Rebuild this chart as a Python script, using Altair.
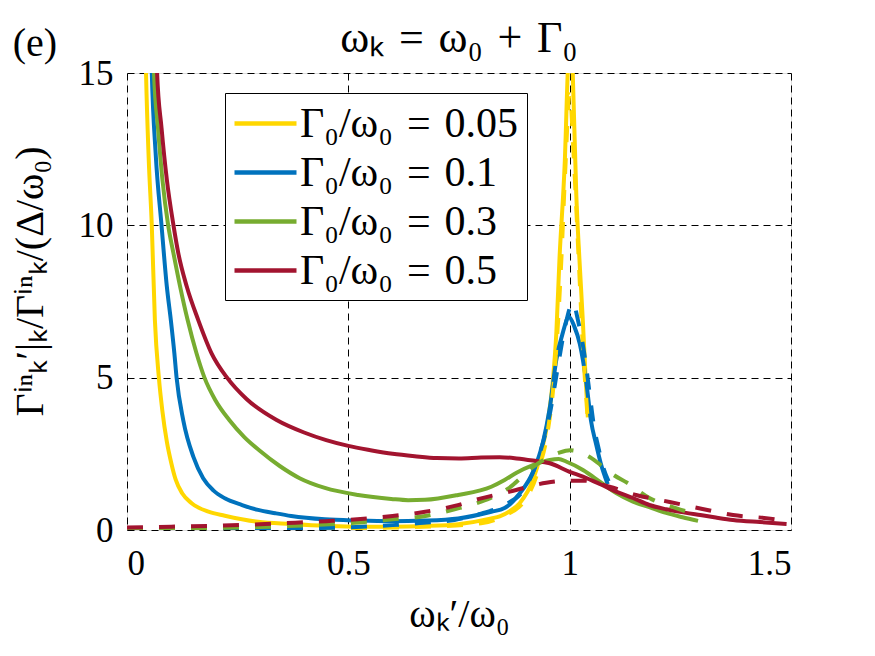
import altair as alt
import pandas as pd

series_labels = ["Γ₀/ω₀\u2004=\u20040.05", "Γ₀/ω₀\u2004=\u20040.1",
                 "Γ₀/ω₀\u2004=\u20040.3", "Γ₀/ω₀\u2004=\u20040.5"]
series_colors = ["#FFD700", "#0072BD", "#77AC30", "#A2142F"]

x_tick_values = [0, 0.5, 1, 1.5]
y_tick_values = [0, 5, 10, 15]

# ---- solid curves ----
yellow_solid_x = [0.038, 0.043, 0.049, 0.056, 0.063, 0.072, 0.08, 0.09, 0.1, 0.11, 0.125, 0.146, 0.184,
                  0.221, 0.296, 0.371, 0.45, 0.522, 0.6, 0.673, 0.748, 0.823, 0.842, 0.865, 0.887, 0.917,
                  0.935, 0.951, 0.962, 0.97, 0.977, 0.989, 0.997, 1.003, 1.008, 1.015, 1.022, 1.03, 1.036, 1.041]
yellow_solid_y = [19.0, 15.0, 12.2, 10.0, 6.89, 5.0, 3.9, 2.9, 2.2, 1.65, 1.2, 0.88, 0.6,
                  0.47, 0.27, 0.2, 0.14, 0.11, 0.11, 0.13, 0.19, 0.38, 0.45, 0.62, 0.88, 1.64,
                  2.5, 3.6, 4.9, 6.5, 8.9, 12.1, 15.5, 16.5, 14.5, 11.0, 8.9, 6.8, 5.0, 3.7]

blue_solid_x = [0.05, 0.056, 0.065, 0.078, 0.09, 0.099, 0.107, 0.112, 0.127, 0.15, 0.172, 0.195, 0.221,
                0.26, 0.296, 0.335, 0.371, 0.447, 0.522, 0.597, 0.673, 0.748, 0.823, 0.853, 0.887, 0.917,
                0.94, 0.955, 0.97, 0.985, 0.998, 1.01, 1.023, 1.038, 1.048, 1.06, 1.07, 1.086]
blue_solid_y = [19.0, 15.0, 12.3, 10.0, 7.99, 6.89, 5.8, 5.0, 3.61, 2.4, 1.7, 1.3, 1.04,
                0.82, 0.66, 0.55, 0.46, 0.35, 0.31, 0.29, 0.31, 0.38, 0.6, 0.72, 1.2, 1.9,
                2.9, 4.0, 5.6, 6.5, 7.0, 6.7, 6.1, 4.8, 3.6, 2.8, 2.2, 1.5]

green_solid_x = [0.055, 0.061, 0.07, 0.08, 0.093, 0.105, 0.12, 0.137, 0.157, 0.175, 0.2, 0.231, 0.265,
                 0.3, 0.345, 0.39, 0.447, 0.522, 0.597, 0.635, 0.673, 0.748, 0.823, 0.853, 0.88, 0.917,
                 0.955, 0.975, 0.993, 1.03, 1.068, 1.105, 1.143, 1.18, 1.218, 1.255, 1.29]
green_solid_y = [19.0, 15.0, 13.2, 11.5, 10.0, 9.08, 7.99, 6.89, 5.8, 5.0, 4.25, 3.61, 3.05,
                 2.6, 2.1, 1.7, 1.38, 1.15, 1.02, 0.98, 0.99, 1.15, 1.42, 1.64, 1.88, 2.13,
                 2.3, 2.33, 2.24, 1.97, 1.59, 1.21, 0.93, 0.75, 0.56, 0.42, 0.3]

red_solid_x = [0.062, 0.068, 0.078, 0.09, 0.105, 0.116, 0.135, 0.161, 0.191, 0.226, 0.27, 0.338, 0.4,
               0.45, 0.5, 0.55, 0.6, 0.65, 0.7, 0.75, 0.8, 0.842, 0.88, 0.917, 0.955, 1.0, 1.03, 1.068,
               1.105, 1.143, 1.18, 1.218, 1.26, 1.295, 1.33, 1.369, 1.43, 1.49]
red_solid_y = [19.0, 15.0, 13.2, 11.5, 10.0, 9.08, 7.99, 6.89, 5.8, 5.0, 4.3, 3.61, 3.2,
               2.95, 2.76, 2.62, 2.5, 2.42, 2.36, 2.35, 2.38, 2.39, 2.35, 2.28, 2.19, 1.91, 1.75, 1.51,
               1.26, 1.05, 0.82, 0.68, 0.57, 0.49, 0.41, 0.33, 0.26, 0.2]

# ---- dashed curves ----
yellow_dash_x = [0.0, 0.1, 0.2, 0.3, 0.4, 0.5, 0.6, 0.7, 0.8, 0.85, 0.9, 0.93, 0.95, 0.965, 0.98, 0.99,
                 1.0, 1.01, 1.02, 1.03, 1.04]
yellow_dash_y = [0.01, 0.015, 0.02, 0.03, 0.04, 0.06, 0.08, 0.12, 0.22, 0.45, 1.0, 2.0, 3.2, 5.0, 8.5, 11.8,
                 14.3, 12.0, 9.0, 6.0, 3.8]

blue_dash_x = [0.0, 0.1, 0.2, 0.3, 0.4, 0.5, 0.6, 0.67, 0.74, 0.8, 0.85, 0.9, 0.93, 0.955, 0.975, 0.99,
               1.007, 1.02, 1.035, 1.045, 1.055, 1.065, 1.075, 1.088]
blue_dash_y = [0.02, 0.025, 0.03, 0.04, 0.06, 0.09, 0.16, 0.24, 0.33, 0.54, 0.8, 1.4, 2.4, 3.8, 5.5, 6.7,
               7.45, 6.8, 5.6, 4.5, 3.4, 2.7, 2.1, 1.6]

green_dash_x = [0.0, 0.1, 0.2, 0.3, 0.4, 0.5, 0.6, 0.67, 0.74, 0.8, 0.86, 0.92, 0.975, 1.0, 1.05, 1.07,
                1.1, 1.13, 1.18, 1.24, 1.29]
green_dash_y = [0.04, 0.05, 0.07, 0.1, 0.15, 0.22, 0.35, 0.45, 0.68, 0.93, 1.35, 2.1, 2.53, 2.62, 2.35, 2.13,
                1.8, 1.55, 1.05, 0.72, 0.5]

red_dash_x = [0.0, 0.1, 0.2, 0.3, 0.38, 0.45, 0.52, 0.6, 0.67, 0.74, 0.8, 0.865, 0.947, 1.0, 1.03, 1.09,
              1.15, 1.226, 1.3, 1.369, 1.444, 1.49]
red_dash_y = [0.08, 0.11, 0.14, 0.19, 0.24, 0.29, 0.35, 0.46, 0.59, 0.79, 1.04, 1.26, 1.55, 1.62, 1.62, 1.42,
              1.15, 0.92, 0.69, 0.49, 0.39, 0.3]

solid_sets = [(yellow_solid_x, yellow_solid_y), (blue_solid_x, blue_solid_y),
              (green_solid_x, green_solid_y), (red_solid_x, red_solid_y)]
dash_sets = [(yellow_dash_x, yellow_dash_y), (blue_dash_x, blue_dash_y),
             (green_dash_x, green_dash_y), (red_dash_x, red_dash_y)]

rows = []
for label, (xs, ys) in zip(series_labels, solid_sets):
    for i, (a, b) in enumerate(zip(xs, ys)):
        rows.append({"series": label, "kind": "solid", "x": a, "y": b, "i": i})
for label, (xs, ys) in zip(series_labels, dash_sets):
    for i, (a, b) in enumerate(zip(xs, ys)):
        rows.append({"series": label, "kind": "dash", "x": a, "y": b, "i": i})
df = pd.DataFrame(rows)

FONT = "Liberation Serif"

x_enc = alt.X(
    "x:Q",
    scale=alt.Scale(domain=[0, 1.5], nice=False, zero=False),
    axis=alt.Axis(values=x_tick_values, format="~g", title="ωₖ′/ω₀",
                  grid=True, gridDash=[7, 5], gridColor="black", gridWidth=1, gridOpacity=1,
                  ticks=False, domain=False,
                  labelFont=FONT, labelFontSize=35, labelColor="black", labelPadding=16,
                  titleFont=FONT, titleFontSize=40, titleFontWeight="normal", titleColor="black",
                  titleY=96, titleBaseline="alphabetic"),
)
y_enc = alt.Y(
    "y:Q",
    scale=alt.Scale(domain=[0, 15], nice=False, zero=False),
    axis=alt.Axis(values=y_tick_values, title="Γⁱⁿₖ′|ₖ/Γⁱⁿₖ/(Δ/ω₀)",
                  grid=True, gridDash=[7, 5], gridColor="black", gridWidth=1, gridOpacity=1,
                  ticks=False, domain=False,
                  labelFont=FONT, labelFontSize=35, labelColor="black", labelPadding=14,
                  titleFont=FONT, titleFontSize=40, titleFontWeight="normal", titleColor="black",
                  titleX=-85, titleY=208, titleBaseline="alphabetic", titleAngle=-90),
)
color_scale = alt.Scale(domain=series_labels, range=series_colors)

legend = alt.Legend(title=None, orient="none", legendX=98, legendY=20,
                    symbolType="M-1.55,0H1.55", symbolSize=1600, symbolStrokeWidth=4.5,
                    labelFont=FONT, labelFontSize=42, labelColor="black", labelLimit=0,
                    padding=8, rowPadding=5, labelOffset=12, symbolOffset=10,
                    strokeColor="black", fillColor="white")

solid = alt.Chart(df).transform_filter(alt.datum.kind == "solid").mark_line(
    strokeWidth=4, clip=True, interpolate="monotone"
).encode(
    x=x_enc, y=y_enc,
    color=alt.Color("series:N", scale=color_scale, sort=series_labels, legend=legend),
    order=alt.Order("i:Q"),
)

dashed = alt.Chart(df).transform_filter(alt.datum.kind == "dash").mark_line(
    strokeWidth=4, strokeDash=[16, 16], clip=True, interpolate="monotone"
).encode(
    x=x_enc, y=y_enc,
    color=alt.Color("series:N", scale=color_scale, sort=series_labels, legend=legend),
    order=alt.Order("i:Q"),
)

panel_label = alt.Chart(pd.DataFrame({"t": ["(e)"]})).mark_text(
    font=FONT, fontSize=40, color="black", align="center", baseline="alphabetic"
).encode(text="t:N", x=alt.value(-92), y=alt.value(-17))

title_text = alt.Chart(pd.DataFrame({"t": ["ωₖ\u2004=\u2004ω₀\u2004+\u2004Γ₀"]})).mark_text(
    font=FONT, fontSize=44, color="black", align="center", baseline="alphabetic"
).encode(text="t:N", x=alt.value(332), y=alt.value(-21))

chart = alt.layer(solid, dashed, panel_label, title_text).properties(
    width=664, height=457,
    autosize=alt.AutoSizeParams(type="none"),
    padding={"left": 119, "top": 65, "right": 76, "bottom": 110},
).configure_view(stroke="black", strokeWidth=1.2).configure(background="white")

chart.save("out.html", embed_options={"renderer": "svg", "actions": False})
